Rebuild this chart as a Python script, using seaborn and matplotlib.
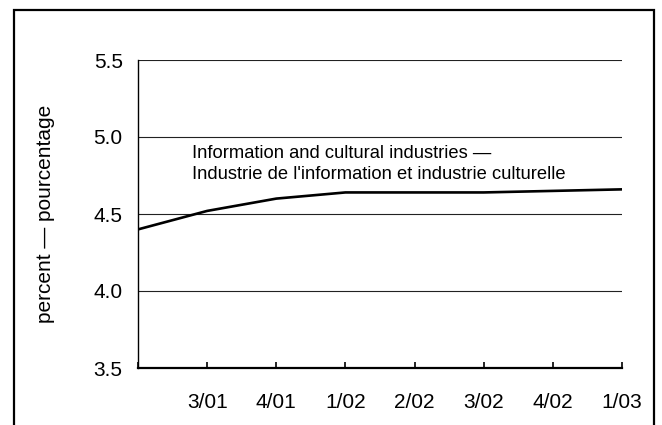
import matplotlib
matplotlib.use("Agg")
import matplotlib.pyplot as plt
from matplotlib.patches import Rectangle
import seaborn as sns
import pandas as pd

# quarters; the first one (2/01) has no label in the original
quarters = ["2/01", "3/01", "4/01", "1/02", "2/02", "3/02", "4/02", "1/03"]
tick_labels = ["", "3/01", "4/01", "1/02", "2/02", "3/02", "4/02", "1/03"]
share = [4.40, 4.52, 4.60, 4.64, 4.64, 4.64, 4.65, 4.66]
yticks = [3.5, 4.0, 4.5, 5.0, 5.5]

df = pd.DataFrame({"pos": range(len(quarters)), "share": share})

sns.set_style("white")
plt.rcParams["font.family"] = ["Liberation Sans", "DejaVu Sans"]
plt.rcParams["text.color"] = "black"
plt.rcParams["axes.labelcolor"] = "black"
plt.rcParams["xtick.color"] = "black"
plt.rcParams["ytick.color"] = "black"

fig = plt.figure(figsize=(6.62, 4.25), dpi=100)
ax = fig.add_axes([138 / 662, 57 / 425, 484 / 662, 308 / 425])

# outer frame (bottom edge runs off the image)
fig.patches.append(Rectangle((14 / 662, -0.1), 640 / 662, 1.1 - 10 / 425,
                             transform=fig.transFigure, fill=False,
                             edgecolor="black", linewidth=1.6))

for y in yticks[1:]:
    ax.axhline(y, color="#222222", linewidth=0.8, zorder=1)

sns.lineplot(data=df, x="pos", y="share", color="black", linewidth=1.9, ax=ax, zorder=3)

ax.set_xlim(0, len(quarters) - 1)
ax.set_ylim(3.5, 5.5)
ax.set_yticks(yticks)
ax.set_yticklabels([f"{v:.1f}" for v in yticks])
ax.set_xticks(range(len(quarters)))
ax.set_xticklabels(tick_labels)
ax.tick_params(axis="x", bottom=True, direction="in", length=4.5, width=1.2,
               pad=18, labelsize=15)
ax.tick_params(axis="y", left=False, length=0, pad=11, labelsize=15)

for s in ["top", "right"]:
    ax.spines[s].set_visible(False)
ax.spines["left"].set_color("black")
ax.spines["left"].set_linewidth(1.0)
ax.spines["bottom"].set_color("black")
ax.spines["bottom"].set_linewidth(1.6)

ax.set_xlabel("")
ax.set_ylabel("percent \u2014 pourcentage", fontsize=15, labelpad=28)

ax.text(0.78, 4.825, "Information and cultural industries \u2014\n"
        "Industrie de l'information et industrie culturelle",
        fontsize=13.2, va="center", ha="left", linespacing=1.3)

fig.savefig("out.png", dpi=100)
